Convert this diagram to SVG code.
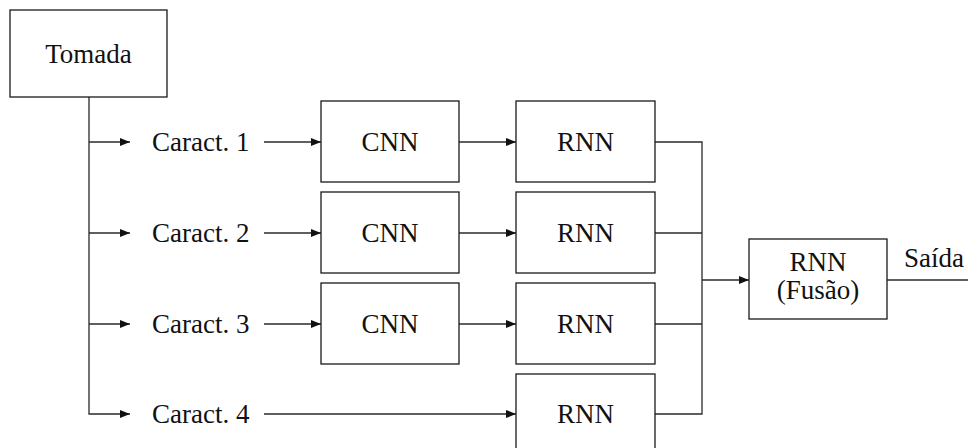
<svg xmlns="http://www.w3.org/2000/svg" width="968" height="448" viewBox="0 0 968 448">
<style>
.box{fill:#fff;stroke:#1a1a1a;stroke-width:1.3}
.ln{fill:none;stroke:#2a2a2a;stroke-width:1.3}
.c{text-anchor:middle}
</style>
<defs>
<marker id="ah" viewBox="0 0 10 8" refX="10" refY="4" markerWidth="10" markerHeight="8" markerUnits="userSpaceOnUse" orient="auto">
<path d="M0,0 L10,4 L0,8 Z" fill="#111"/>
</marker>
</defs>
<rect width="968" height="448" fill="#fff"/>
<g id="connectors">
<path class="ln" d="M89,97 V414 H130" marker-end="url(#ah)"/>
<path class="ln" d="M89,142 H130" marker-end="url(#ah)"/>
<path class="ln" d="M89,233 H130" marker-end="url(#ah)"/>
<path class="ln" d="M89,324 H130" marker-end="url(#ah)"/>
<path class="ln" d="M264,142 H321" marker-end="url(#ah)"/>
<path class="ln" d="M264,233 H321" marker-end="url(#ah)"/>
<path class="ln" d="M264,324 H321" marker-end="url(#ah)"/>
<path class="ln" d="M264,414 H516" marker-end="url(#ah)"/>
<path class="ln" d="M459,142 H516" marker-end="url(#ah)"/>
<path class="ln" d="M459,233 H516" marker-end="url(#ah)"/>
<path class="ln" d="M459,324 H516" marker-end="url(#ah)"/>
<path class="ln" d="M655,142 H702 V414 H655"/>
<path class="ln" d="M655,233 H702"/>
<path class="ln" d="M655,324 H702"/>
<path class="ln" d="M702,280 H749" marker-end="url(#ah)"/>
<path class="ln" d="M887,280 H968"/>
</g>
<g font-family="Liberation Serif, DejaVu Serif, serif" font-size="27" fill="#111">
<g id="tomada"><rect class="box" x="10" y="10" width="157" height="87"/><text class="c" x="88.5" y="63">Tomada</text></g>
<g id="caract1"><text x="152" y="151">Caract. 1</text></g>
<g id="caract2"><text x="152" y="242">Caract. 2</text></g>
<g id="caract3"><text x="152" y="333">Caract. 3</text></g>
<g id="caract4"><text x="152" y="423">Caract. 4</text></g>
<g id="cnn1"><rect class="box" x="321" y="101" width="138" height="81"/><text class="c" x="390" y="151">CNN</text></g>
<g id="cnn2"><rect class="box" x="321" y="192" width="138" height="81"/><text class="c" x="390" y="242">CNN</text></g>
<g id="cnn3"><rect class="box" x="321" y="283" width="138" height="81"/><text class="c" x="390" y="333">CNN</text></g>
<g id="rnn1"><rect class="box" x="516" y="101" width="139" height="81"/><text class="c" x="585.5" y="151">RNN</text></g>
<g id="rnn2"><rect class="box" x="516" y="192" width="139" height="81"/><text class="c" x="585.5" y="242">RNN</text></g>
<g id="rnn3"><rect class="box" x="516" y="283" width="139" height="81"/><text class="c" x="585.5" y="333">RNN</text></g>
<g id="rnn4"><rect class="box" x="516" y="374" width="139" height="81"/><text class="c" x="585.5" y="423">RNN</text></g>
<g id="fusion"><rect class="box" x="749" y="239" width="138" height="80"/><text class="c" x="818" y="271">RNN</text><text class="c" x="818" y="299">(Fusão)</text></g>
<g id="saida"><text x="904" y="267">Saída</text></g>
</g>
</svg>
